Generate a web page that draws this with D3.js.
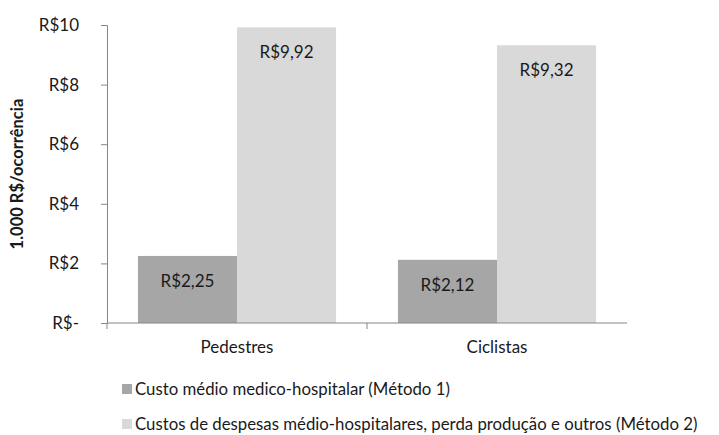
<!DOCTYPE html>
<html>
<head>
<meta charset="utf-8">
<script src="https://cdn.jsdelivr.net/npm/d3@7"></script>
<style>
  body { margin: 0; background: #fff; }
  svg text { font-family: Lato, "Open Sans", sans-serif; fill: #1a1a1a; }
</style>
</head>
<body>
<svg id="chart"></svg>
<script>
const categories = ["Pedestres", "Ciclistas"];
const seriesNames = [
    "Custo médio medico-hospitalar (Método 1)",
    "Custos de despesas médio-hospitalares, perda produção e outros (Método 2)"
];
const metodo1 = [2.25, 2.12];
const metodo2 = [9.92, 9.32];
const yTicks = [0, 2, 4, 6, 8, 10];
const colors = ["#a6a6a6", "#d9d9d9"];

const width = 719, height = 435;
const margin = { top: 25, right: 92, bottom: 112, left: 107 };
const innerW = width - margin.left - margin.right;
const innerH = height - margin.top - margin.bottom;
const fs = "17px";

const svg = d3.select("#chart")
    .attr("width", width)
    .attr("height", height)
    .append("g")
    .attr("transform", `translate(${margin.left},${margin.top})`);

const fmt = v => v === 0 ? "R$-" : "R$" + d3.format(".2f")(v).replace(".", ",").replace(/,00$/, "");

const x0 = d3.scaleBand().domain(categories).range([0, innerW]).paddingInner(0.238).paddingOuter(0.119);
const xBand = d3.scaleBand().domain(categories).range([0, innerW]);
const x1 = d3.scaleBand().domain([0, 1]).range([0, x0.bandwidth()]);
const y = d3.scaleLinear().domain([0, 10]).range([innerH, 0]);

// y axis
const yAxis = svg.append("g")
    .call(d3.axisLeft(y).tickValues(yTicks).tickFormat(fmt).tickSize(6).tickPadding(22));
yAxis.select(".domain").attr("stroke", "#868686");
yAxis.selectAll(".tick line").attr("stroke", "#868686");
yAxis.selectAll("text").style("font-size", fs).attr("fill", "#1a1a1a");

// bars
const data = categories.map((c, i) => ({ cat: c, vals: [metodo1[i], metodo2[i]] }));
const groups = svg.selectAll(".grp")
    .data(data)
    .enter().append("g")
    .attr("transform", d => `translate(${x0(d.cat)},0)`);

groups.selectAll("rect")
    .data(d => d.vals.map((v, k) => ({ v, k })))
    .enter().append("rect")
    .attr("x", d => x1(d.k))
    .attr("y", d => y(d.v))
    .attr("width", x1.bandwidth())
    .attr("height", d => innerH - y(d.v))
    .attr("fill", d => colors[d.k]);

groups.selectAll(".lbl")
    .data(d => d.vals.map((v, k) => ({ v, k })))
    .enter().append("text")
    .attr("x", d => x1(d.k) + x1.bandwidth() / 2)
    .attr("y", d => y(d.v) + 31)
    .attr("text-anchor", "middle")
    .style("font-size", fs)
    .text(d => fmt(d.v));

// x axis
const xAxis = svg.append("g")
    .attr("transform", `translate(0,${innerH})`)
    .call(d3.axisBottom(xBand).tickSize(0).tickPadding(18));
xAxis.select(".domain").attr("stroke", "#868686").attr("d", `M0,0H${innerW}`);
xAxis.selectAll("text").style("font-size", fs).attr("fill", "#1a1a1a");
// category separators
svg.selectAll(".sep")
    .data([0, innerW / 2])
    .enter().append("line")
    .attr("x1", d => d).attr("x2", d => d)
    .attr("y1", innerH).attr("y2", innerH + 6)
    .attr("stroke", "#868686");

// y title
svg.append("text")
    .attr("transform", `translate(${-84},${innerH / 2}) rotate(-90)`)
    .attr("text-anchor", "middle")
    .style("font-size", "16.5px")
    .style("font-weight", "bold")
    .text("1.000 R$/ocorrência");

// legend
const legend = svg.selectAll(".leg")
    .data(seriesNames)
    .enter().append("g")
    .attr("transform", (d, i) => `translate(15,${389 - margin.top + i * 35})`);
legend.append("rect")
    .attr("y", -5).attr("width", 10).attr("height", 10)
    .attr("fill", (d, i) => colors[i]);
legend.append("text")
    .attr("x", 13).attr("y", 6)
    .style("font-size", "16.8px")
    .text(d => d);
</script>
</body>
</html>
